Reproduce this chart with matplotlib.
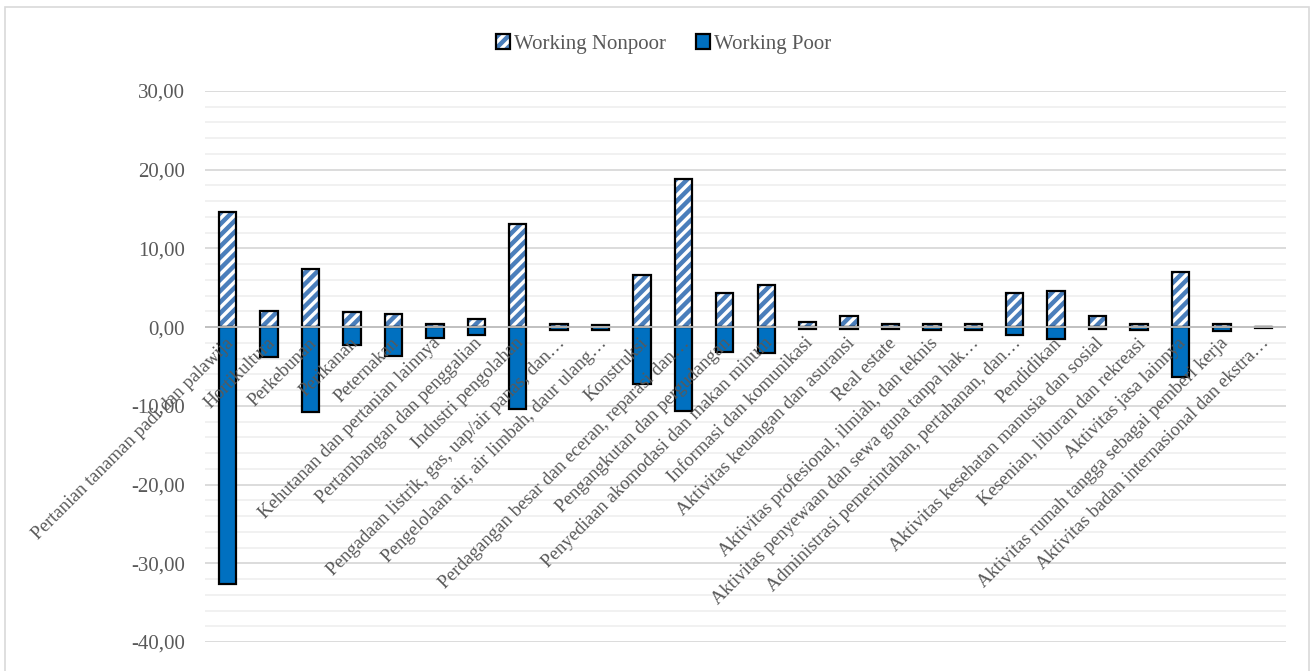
import numpy as np
import matplotlib
matplotlib.use("Agg")
import matplotlib.pyplot as plt
from matplotlib.patches import Rectangle
from matplotlib.legend_handler import HandlerTuple

plt.rcParams['font.family'] = ['Liberation Serif', 'DejaVu Serif']
plt.rcParams['hatch.linewidth'] = 3.2

categories = [
    "Pertanian tanaman padi dan palawija", "Hortikultura", "Perkebunan", "Perikanan",
    "Peternakan", "Kehutanan dan pertanian lainnya", "Pertambangan dan penggalian",
    "Industri pengolahan", "Pengadaan listrik, gas, uap/air panas, dan…",
    "Pengelolaan air, air limbah, daur ulang…", "Konstruksi",
    "Perdagangan besar dan eceran, reparasi dan…", "Pengangkutan dan pergudangan",
    "Penyediaan akomodasi dan makan minum", "Informasi dan komunikasi",
    "Aktivitas keuangan dan asuransi", "Real estate",
    "Aktivitas profesional, ilmiah, dan teknis",
    "Aktivitas penyewaan dan sewa guna tanpa hak…",
    "Administrasi pemerintahan, pertahanan, dan…", "Pendidikan",
    "Aktivitas kesehatan manusia dan sosial", "Kesenian, liburan dan rekreasi",
    "Aktivitas jasa lainnya", "Aktivitas rumah tangga sebagai pemberi kerja",
    "Aktivitas badan internasional dan ekstra…",
]
nonpoor = [14.6, 2.0, 7.4, 1.9, 1.7, 0.45, 1.0, 13.1, 0.35, 0.3, 6.6, 18.8, 4.4,
           5.4, 0.6, 1.45, 0.35, 0.45, 0.4, 4.4, 4.6, 1.45, 0.4, 7.0, 0.4, 0.05]
poor = [-32.6, -3.85, -10.8, -2.3, -3.7, -1.35, -1.0, -10.4, -0.3, -0.4, -7.2, -10.6,
        -3.1, -3.3, -0.25, -0.25, -0.2, -0.3, -0.3, -1.0, -1.5, -0.25, -0.3, -6.3,
        -0.5, -0.05]
yticks = [30, 20, 10, 0, -10, -20, -30, -40]

gray = '#595959'
x = np.arange(len(categories))
w = 0.42

fig = plt.figure(figsize=(13.14, 6.71), dpi=100)
ax = fig.add_axes([0.156, 0.0432, 0.8227, 0.8212])

# gridlines
for v in np.arange(-40, 31, 2):
    ax.axhline(v, color='#d9d9d9' if v % 10 == 0 else '#f0f0f0', lw=1.3, zorder=0)

h_hatch = ax.bar(x, nonpoor, w, color='white', edgecolor='#4a7ebb', hatch='///', lw=0, zorder=2)
h_np = ax.bar(x, nonpoor, w, color='none', edgecolor='black', lw=1.6, zorder=3)
h_p = ax.bar(x, poor, w, color='#0070c0', edgecolor='black', lw=1.6, zorder=3)
ax.axhline(0, color='#bfbfbf', lw=1.3, zorder=4)

ax.set_xlim(-0.55, len(categories) - 0.45)
ax.set_ylim(-40, 30)
ax.set_yticks(yticks)
ax.set_yticklabels([f"{v:.2f}".replace('.', ',') for v in yticks])
ax.tick_params(axis='y', length=0, labelsize=15, labelcolor=gray, pad=14.5)
ax.set_xticks([])
for s in ax.spines.values():
    s.set_visible(False)

for i, lab in enumerate(categories):
    ax.text(i + 0.08, -1.7, lab, rotation=45, rotation_mode='anchor', ha='right', va='center',
            fontsize=13.5, color=gray, zorder=5)

fig.legend([(h_hatch[0], h_np[0]), h_p[0]], ['Working Nonpoor', 'Working Poor'],
           handler_map={tuple: HandlerTuple(ndivide=1, pad=0)},
           loc='center', bbox_to_anchor=(0.505, 0.934), ncol=2, frameon=False,
           fontsize=15, labelcolor=gray, handlelength=0.7, handleheight=0.7,
           handletextpad=0.2, columnspacing=1.4)

fig.patches.append(Rectangle((0.004, -0.01), 0.992, 1.0, transform=fig.transFigure,
                             fill=False, edgecolor='#d9d9d9', lw=1.2))

fig.savefig('out.png', dpi=100)
